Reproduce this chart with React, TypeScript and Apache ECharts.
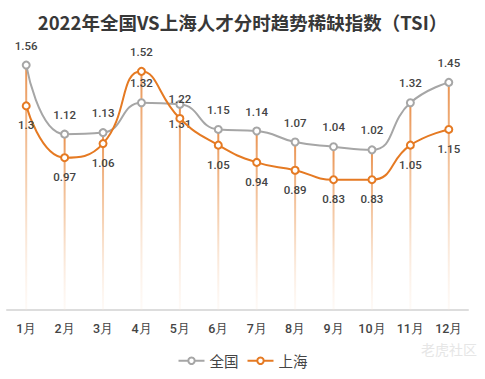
import React, { useEffect, useRef } from "react";
import * as echarts from "echarts";

const months = ["1月", "2月", "3月", "4月", "5月", "6月", "7月", "8月", "9月", "10月", "11月", "12月"];
const national = [1.56, 1.12, 1.13, 1.32, 1.31, 1.15, 1.14, 1.07, 1.04, 1.02, 1.32, 1.45];
const shanghai = [1.3, 0.97, 1.06, 1.52, 1.22, 1.05, 0.94, 0.89, 0.83, 0.83, 1.05, 1.15];
// label positions: national below at 5月; Shanghai above at 4月, 5月
const nationalBelow = [4];
const shanghaiAbove = [3, 4];

export default function App() {
  const ref = useRef<HTMLDivElement>(null);
  useEffect(() => {
    document.body.style.margin = "0";
    if (!ref.current) return;
    const chart = echarts.init(ref.current, null, { renderer: "svg" });
    const gray = "#a6a6a6";
    const orange = "#e57a23";
    const labelStyle = { fontSize: 11.5, fontWeight: 500, color: "#444", fontFamily: "Roboto" };
    const dropValues = national.map((v, i) => Math.max(v, shanghai[i]));
    chart.setOption({
      animation: false,
      backgroundColor: "#fff",
      title: {
        text: "2022年全国VS上海人才分时趋势稀缺指数（TSI）",
        left: "center",
        top: 8,
        textStyle: { fontSize: 18.5, fontWeight: "bold", color: "#383838", fontFamily: "Noto Sans CJK SC" },
      },
      legend: {
        bottom: 6,
        left: "center",
        itemWidth: 26,
        itemHeight: 8,
        itemGap: 8,
        textStyle: { fontSize: 14.5, color: "#444", fontFamily: "Noto Sans CJK SC" },
        data: ["全国", "上海"],
      },
      grid: { left: 7, right: 17, top: 58.8, bottom: 69, containLabel: false },
      xAxis: {
        type: "category",
        data: months,
        boundaryGap: true,
        axisLine: { lineStyle: { color: "#ddd", width: 2 } },
        axisTick: { show: false },
        axisLabel: { fontSize: 12.5, fontWeight: 500, color: "#444", margin: 12, fontFamily: "Roboto" },
      },
      yAxis: {
        type: "value",
        min: 0,
        max: 1.6,
        show: false,
        splitLine: { show: false },
      },
      graphic: [
        {
          type: "text",
          right: 8,
          top: 342,
          style: { text: "老虎社区", fill: "#e6e6e6", fontSize: 14, fontFamily: "Noto Sans CJK SC" },
        },
      ],
      series: [
        {
          type: "bar",
          data: dropValues,
          barWidth: 2,
          silent: true,
          z: 1,
          itemStyle: {
            color: new echarts.graphic.LinearGradient(0, 0, 0, 1, [
              { offset: 0, color: "rgba(232,140,70,0.95)" },
              { offset: 0.5, color: "rgba(240,180,130,0.6)" },
              { offset: 1, color: "rgba(250,230,215,0.2)" },
            ]),
          },
        },
        {
          name: "全国",
          type: "line",
          smooth: true,
          data: national.map((v, i) => ({
            value: v,
            label: { position: nationalBelow.includes(i) ? "bottom" : "top" },
          })),
          symbol: "emptyCircle",
          symbolSize: 7,
          z: 3,
          lineStyle: { color: gray, width: 2 },
          itemStyle: { color: gray, borderWidth: 1.5 },
          label: { show: true, distance: 9, ...labelStyle },
        },
        {
          name: "上海",
          type: "line",
          smooth: true,
          data: shanghai.map((v, i) => ({
            value: v,
            label: { position: shanghaiAbove.includes(i) ? "top" : "bottom" },
          })),
          symbol: "emptyCircle",
          symbolSize: 7,
          z: 4,
          lineStyle: { color: orange, width: 2 },
          itemStyle: { color: orange, borderWidth: 1.5 },
          label: { show: true, distance: 9, ...labelStyle },
        },
      ],
    });
    return () => chart.dispose();
  }, []);
  return <div ref={ref} style={{ width: 485, height: 379 }} />;
}
